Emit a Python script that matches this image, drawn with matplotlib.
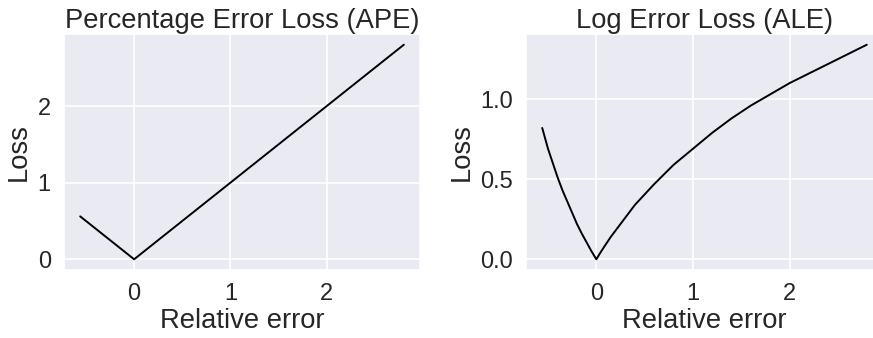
import matplotlib
matplotlib.use("Agg")
import matplotlib.pyplot as plt
import seaborn as sns

sns.set_theme(style="darkgrid")
plt.rcParams['font.family'] = ['Liberation Sans', 'DejaVu Sans']

# relative error vs. absolute percentage error
ape_err = [-0.56, 0.0, 2.8]
ape_loss = [0.56, 0.0, 2.8]

# relative error vs. absolute log error
ale_err = [-0.56, -0.5, -0.45, -0.4, -0.35, -0.3, -0.25, -0.2, -0.15, -0.1, -0.05,
           0.0, 0.05, 0.1, 0.15, 0.2, 0.3, 0.4, 0.5, 0.6, 0.7, 0.8, 0.9, 1.0,
           1.2, 1.4, 1.6, 1.8, 2.0, 2.2, 2.4, 2.6, 2.8]
ale_loss = [0.82, 0.69, 0.60, 0.51, 0.43, 0.36, 0.29, 0.22, 0.16, 0.105, 0.05,
            0.0, 0.049, 0.095, 0.14, 0.18, 0.26, 0.34, 0.405, 0.47, 0.53, 0.59, 0.64, 0.69,
            0.79, 0.88, 0.96, 1.03, 1.10, 1.16, 1.22, 1.28, 1.34]

W, H = 873, 338
fig = plt.figure(figsize=(W / 100, H / 100), dpi=100)
ax1 = fig.add_axes([64 / W, 1 - 270 / H, 356 / W, 236 / H])
ax2 = fig.add_axes([526 / W, 1 - 270 / H, 357 / W, 236 / H])

tick_pt = 17
label_pt = 19.7

panels = [
    (ax1, ape_err, ape_loss, "Percentage Error Loss (APE)", [0, 1, 2]),
    (ax2, ale_err, ale_loss, "Log Error Loss (ALE)", [0.0, 0.5, 1.0]),
]
for ax, x, y, title, yt in panels:
    ax.plot(x, y, color="black", lw=1.4)
    ax.set_xticks([0, 1, 2])
    ax.set_yticks(yt)
    ax.tick_params(labelsize=tick_pt, colors="0.15")
    ax.set_xlabel("Relative error", fontsize=label_pt, color="0.15", labelpad=2)
    ax.set_ylabel("Loss", fontsize=label_pt, color="0.15")
    ax.set_title(title, fontsize=label_pt, color="0.15", pad=4)
    ax.grid(color="white", lw=1.2)

ax2.set_yticklabels(["0.0", "0.5", "1.0"])

fig.savefig("out.png", dpi=100)
